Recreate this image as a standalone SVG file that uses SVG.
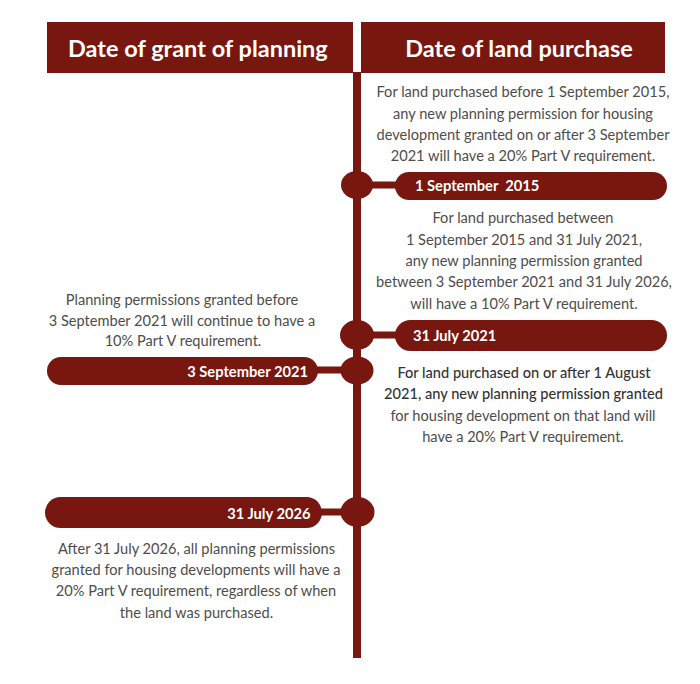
<svg xmlns="http://www.w3.org/2000/svg" width="700" height="684" viewBox="0 0 700 684">
<style>
.hdr{fill:#78170f}
.hdrt{font-family:Lato,"Liberation Sans",sans-serif;font-weight:700;font-size:23.5px;fill:#ffffff}
.pill{fill:#78170f}
.pillt{font-family:Lato,"Liberation Sans",sans-serif;font-weight:700;font-size:14.7px;fill:#ffffff}
.dot{fill:#78170f}
.conn{stroke:#78170f;stroke-width:7;fill:none}
.body{font-family:Lato,"Liberation Sans",sans-serif;font-size:14.6px;fill:#4d4d4d;text-anchor:middle}
.bodyd{font-weight:500;fill:#333333}
</style>
<rect width="700" height="684" fill="#ffffff"/>
<g id="connectors">
<rect x="353" y="72" width="8" height="586" fill="#78170f"/>
<line class="conn" x1="357" y1="185" x2="400" y2="185"/>
<line class="conn" x1="357" y1="335" x2="400" y2="335"/>
<line class="conn" x1="313" y1="370" x2="357" y2="370"/>
<line class="conn" x1="317" y1="512" x2="357" y2="512"/>
</g>
<g id="header-grant">
<rect class="hdr" x="47" y="22" width="306" height="51"/>
<text class="hdrt" x="68" y="57">Date of grant of planning</text>
</g>
<g id="header-land">
<rect class="hdr" x="361" y="22" width="304" height="51"/>
<text class="hdrt" x="519" y="57" text-anchor="middle">Date of land purchase</text>
</g>
<g id="text-before-2015">
<text class="body"><tspan x="523" y="97">For land purchased before 1 September 2015,</tspan><tspan x="523" y="118.5">any new planning permission for housing</tspan><tspan x="523" y="140">development granted on or after 3 September</tspan><tspan x="523" y="161">2021 will have a 20% Part V requirement.</tspan></text>
</g>
<g id="node-2015">
<ellipse class="dot" cx="357" cy="185" rx="16" ry="14"/>
<rect class="pill" x="395" y="172" width="272" height="28" rx="14"/>
<text class="pillt" x="415" y="191" xml:space="preserve">1 September  2015</text>
</g>
<g id="text-between">
<text class="body"><tspan x="523" y="223">For land purchased between</tspan><tspan x="524" y="244.5">1 September 2015 and 31 July 2021,</tspan><tspan x="524" y="266">any new planning permission granted</tspan><tspan x="524" y="287">between 3 September 2021 and 31 July 2026,</tspan><tspan x="524" y="308.5">will have a 10% Part V requirement.</tspan></text>
</g>
<g id="node-july-2021">
<ellipse class="dot" cx="357" cy="335" rx="17" ry="15"/>
<rect class="pill" x="395" y="320" width="272" height="31" rx="15.5"/>
<text class="pillt" x="413" y="341">31 July 2021</text>
</g>
<g id="text-before-sept-2021">
<text class="body"><tspan x="182" y="305">Planning permissions granted before</tspan><tspan x="182" y="326">3 September 2021 will continue to have a</tspan><tspan x="183" y="346">10% Part V requirement.</tspan></text>
</g>
<g id="node-sept-2021">
<ellipse class="dot" cx="357" cy="370.5" rx="16.5" ry="14"/>
<rect class="pill" x="47" y="357" width="271" height="28" rx="14"/>
<text class="pillt" x="308" y="377" text-anchor="end">3 September 2021</text>
</g>
<g id="text-after-aug-2021">
<text class="body"><tspan class="bodyd" x="524" y="377.5">For land purchased on or after 1 August</tspan><tspan class="bodyd" x="523.5" y="399">2021, any new planning permission granted</tspan><tspan x="523" y="420.5">for housing development on that land will</tspan><tspan x="523" y="442">have a 20% Part V requirement.</tspan></text>
</g>
<g id="node-july-2026">
<ellipse class="dot" cx="357.5" cy="512" rx="17" ry="15"/>
<rect class="pill" x="45" y="497" width="277" height="31" rx="15.5"/>
<text class="pillt" x="310.5" y="518.5" text-anchor="end">31 July 2026</text>
</g>
<g id="text-after-2026">
<text class="body"><tspan x="196.5" y="554">After 31 July 2026, all planning permissions</tspan><tspan x="196" y="575">granted for housing developments will have a</tspan><tspan x="196" y="596">20% Part V requirement, regardless of when</tspan><tspan x="196.5" y="617.5">the land was purchased.</tspan></text>
</g>
</svg>
